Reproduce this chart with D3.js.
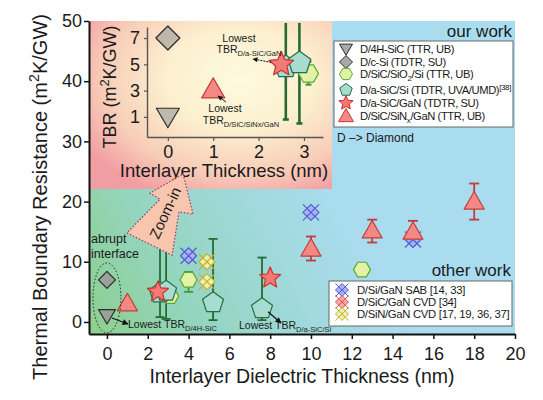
<!DOCTYPE html>
<html>
<head>
<meta charset="utf-8">
<script src="https://cdn.jsdelivr.net/npm/d3@7"></script>
<style>
  body { margin: 0; background: #fff; }
  text { font-family: "Liberation Sans", Arial, sans-serif; fill: #1a1a1a; }
</style>
</head>
<body>
<div id="chart"></div>
<script>
/* global d3 */

var W = 543, H = 400;

// ---- data: our work ----
var d4hSiC = [{x: 0, y: 1}];
var dcSi = [{x: 0, y: 7}];
var sio2Si = [{x: 3.1, y: 4.3, lo: 3.45, hi: 5.2}, {x: 4, y: 7, lo: 5, hi: 8.3}, {x: 12.5, y: 8.7, lo: 7.8, hi: 8.7}];
var aSiCSi = [{x: 2.6, y: 4.8, lo: 0.8, hi: 14}, {x: 2.9, y: 5.1, lo: 0.5, hi: 14}, {x: 5.2, y: 3.2, lo: 0.3, hi: 13.8}, {x: 7.6, y: 2.2, lo: 0.3, hi: 10.7}];
var aSiCGaN = [{x: 2.5, y: 5}, {x: 8, y: 7.3}];
var sinxGaN = [{x: 1, y: 3.1, lo: 2.6, hi: 3.5}, {x: 10, y: 12.2, lo: 10.2, hi: 14.2}, {x: 13, y: 15.2, lo: 13.2, hi: 17}, {x: 15, y: 15, lo: 13.5, hi: 16.8}, {x: 18, y: 20, lo: 17, hi: 23}];
// ---- data: other work ----
var siGaNSAB = [{x: 4, y: 11}, {x: 10, y: 18.2}, {x: 15, y: 13.7}];
var sicGaNCVD = [];
var sinGaNCVD = [{x: 4.9, y: 10}, {x: 4.9, y: 6.7}];

var xTicks = [0, 2, 4, 6, 8, 10, 12, 14, 16, 18, 20];
var yTicks = [0, 10, 20, 30, 40, 50];
var insetXTicks = [0, 1, 2, 3];
var insetYTicks = [1, 3, 5, 7];

var ourLegend = [
  {key: 'd4h', parts: [['D/4H-SiC (TTR, UB)']]},
  {key: 'csi', parts: [['D/c-Si (TDTR, SU)']]},
  {key: 'hex', parts: [['D/SiC/SiO'], ['2', 'sub'], ['/Si (TTR, UB)']]},
  {key: 'pent', parts: [['D/a-SiC/Si (TDTR, UVA/UMD)'], ['[38]', 'sup']]},
  {key: 'star', parts: [['D/a-SiC/GaN (TDTR, SU)']]},
  {key: 'tri', parts: [['D/SiC/SiN'], ['x', 'sub'], ['/GaN (TTR, UB)']]}
];
var otherLegend = [
  {key: 'sab', parts: [['D/Si/GaN SAB [14, 33]']]},
  {key: 'sicCvd', parts: [['D/SiC/GaN CVD [34]']]},
  {key: 'sinCvd', parts: [['D/SiN/GaN CVD [17, 19, 36, 37]']]}
];

// annotation arrow in data units
var zoomArrow = [[3.73, 24.6], [4.22, 17.9], [3.53, 18.3], [3.19, 11.1], [0.98, 14.8], [2.6, 20.4], [2.11, 21.4]];

var styles = {
  d4h: {shape: 'dtri', fill: '#9a9a9a', stroke: '#2b2b2b', op: 0.85},
  csi: {shape: 'diamond', fill: '#9a9a9a', stroke: '#2b2b2b', op: 0.85},
  hex: {shape: 'hex', fill: '#e4f2a8', stroke: '#5aa830', op: 1},
  pent: {shape: 'pent', fill: '#a6ddd0', stroke: '#2a6b45', op: 1},
  star: {shape: 'star', fill: '#f47a76', stroke: '#cf2e2e', op: 1},
  tri: {shape: 'tri', fill: '#f38884', stroke: '#c43c38', op: 1},
  sab: {shape: 'cross', fill: '#a9b0f4', stroke: '#4f5fd0', op: 1},
  sicCvd: {shape: 'cross', fill: '#f6a8a8', stroke: '#d45555', op: 1},
  sinCvd: {shape: 'cross', fill: '#eff1a6', stroke: '#c2b23c', op: 1}
};

function poly(n, r, rot) {
  var pts = [];
  for (var i = 0; i < n; i++) {
    var a = rot + i * 2 * Math.PI / n;
    pts.push([r * Math.sin(a), -r * Math.cos(a)]);
  }
  return 'M' + pts.join('L') + 'Z';
}
function starPath(r) {
  var pts = [];
  for (var i = 0; i < 10; i++) {
    var a = i * Math.PI / 5, rr = i % 2 ? r * 0.45 : r;
    pts.push([rr * Math.sin(a), -rr * Math.cos(a)]);
  }
  return 'M' + pts.join('L') + 'Z';
}
function shapePath(shape, s) {
  if (shape === 'dtri') return 'M' + (-s) + ',' + (-s * 0.75) + 'L' + s + ',' + (-s * 0.75) + 'L0,' + (s * 0.95) + 'Z';
  if (shape === 'tri') return 'M0,' + (-s) + 'L' + s + ',' + (s * 0.75) + 'L' + (-s) + ',' + (s * 0.75) + 'Z';
  if (shape === 'diamond') return poly(4, s, 0);
  if (shape === 'hex') return poly(6, s, Math.PI / 6);
  if (shape === 'pent') return poly(5, s, 0);
  if (shape === 'star') return starPath(s);
  if (shape === 'cross') return poly(4, s, 0) + 'M' + (-s) + ',' + (-s) + 'L' + s + ',' + s + 'M' + (-s) + ',' + s + 'L' + s + ',' + (-s);
  return '';
}

function drawMarkers(g, data, key, xs, ys, size, opOverride) {
  var st = styles[key];
  g.selectAll(null).data(data).enter().append('path').
  attr('transform', d => 'translate(' + xs(d.x) + ',' + ys(d.y) + ')').
  attr('d', shapePath(st.shape, size)).
  attr('fill', st.fill).
  attr('fill-opacity', opOverride || st.op).
  attr('stroke', st.stroke).
  attr('stroke-width', 1.2).
  attr('stroke-linejoin', 'round');
}

function drawErrors(g, data, color, xs, ys, cap, sw, yMax) {
  var e = g.selectAll(null).data(data).enter().append('g').
  attr('stroke', color).attr('stroke-width', sw);
  var top = d => ys(yMax === undefined ? d.hi : Math.min(d.hi, yMax));
  e.append('line').attr('x1', d => xs(d.x)).attr('x2', d => xs(d.x)).
  attr('y1', d => ys(d.lo)).attr('y2', top);
  e.append('line').attr('x1', d => xs(d.x) - cap / 2).attr('x2', d => xs(d.x) + cap / 2).
  attr('y1', d => ys(d.lo)).attr('y2', d => ys(d.lo));
  e.filter(d => yMax === undefined || d.hi < yMax).append('line').
  attr('x1', d => xs(d.x) - cap / 2).attr('x2', d => xs(d.x) + cap / 2).
  attr('y1', top).attr('y2', top);
}

function rich(t, parts, fs) {
  var off = 0;
  parts.forEach(function (p) {
    var target = p[1] === 'sub' ? fs * 0.3 : p[1] === 'sup' ? -fs * 0.4 : 0;
    var ts = t.append('tspan').text(p[0]).attr('dy', target - off);
    if (p[1]) ts.attr('font-size', fs * 0.72);
    off = target;
  });
  return t;
}

var svg = d3.select('#chart').append('svg').attr('width', W).attr('height', H);
var defs = svg.append('defs');

var bg = defs.append('linearGradient').attr('id', 'bgGrad').
attr('gradientUnits', 'userSpaceOnUse').
attr('x1', 89).attr('y1', 334).attr('x2', 345).attr('y2', 200);
[[0, '#8ccf8c'], [0.35, '#94d5bf'], [0.7, '#a1d9dc'], [1, '#aadcf0']].forEach(function (s) {
  bg.append('stop').attr('offset', s[0]).attr('stop-color', s[1]);
});
var ig = defs.append('radialGradient').attr('id', 'insetGrad').
attr('cx', 0.62).attr('cy', 0.35).attr('r', 0.75);
[[0, '#fdf9df'], [0.4, '#fcf0cf'], [0.75, '#f8cdb8'], [1, '#f19ea3']].forEach(function (s) {
  ig.append('stop').attr('offset', s[0]).attr('stop-color', s[1]);
});
var ah = defs.append('marker').attr('id', 'ah').attr('viewBox', '0 0 10 10').
attr('refX', 9).attr('refY', 5).attr('markerWidth', 7).attr('markerHeight', 5).
attr('orient', 'auto-start-reverse');
ah.append('path').attr('d', 'M0,0L10,5L0,10Z').attr('fill', '#111');

// ---- main scales ----
var x = d3.scaleLinear().domain([-0.88, 20]).range([89, 515]);
var y = d3.scaleLinear().domain([-2, 50]).range([334, 21]);

svg.append('rect').attr('x', 89).attr('y', 21).attr('width', 426).attr('height', 313).
attr('fill', 'url(#bgGrad)');

// inset panel
var inset = {x0: 89, y0: 21, x1: 332, y1: 189};
svg.append('rect').attr('x', inset.x0).attr('y', inset.y0).
attr('width', inset.x1 - inset.x0).attr('height', inset.y1 - inset.y0).
attr('fill', 'url(#insetGrad)');

// ---- main marks ----
var main = svg.append('g');
drawErrors(main, aSiCSi, '#256b33', x, y, 9, 1.8);
drawErrors(main, sio2Si, '#3f9a2c', x, y, 9, 1.8);
drawErrors(main, sinxGaN, '#c43c38', x, y, 10, 1.8);
drawMarkers(main, sio2Si, 'hex', x, y, 8.5);
drawMarkers(main, aSiCSi, 'pent', x, y, 11);
drawMarkers(main, sinGaNCVD, 'sinCvd', x, y, 8);
drawMarkers(main, sicGaNCVD, 'sicCvd', x, y, 8);
drawMarkers(main, siGaNSAB, 'sab', x, y, 8);
drawMarkers(main, aSiCGaN, 'star', x, y, 11);
drawMarkers(main, sinxGaN, 'tri', x, y, 10);
drawMarkers(main, dcSi, 'csi', x, y, 8.5);
drawMarkers(main, d4hSiC, 'd4h', x, y, 8.5);

// abrupt interface ellipse
main.append('ellipse').attr('cx', x(0)).attr('cy', y(4)).attr('rx', 14).attr('ry', 35).
attr('fill', 'none').attr('stroke', '#222').attr('stroke-width', 1).attr('stroke-dasharray', '1.5,2');
svg.append('text').attr('x', 91).attr('y', 243).attr('font-size', 12.5).text('abrupt');
svg.append('text').attr('x', 91).attr('y', 258).attr('font-size', 12.5).text('interface');

// lowest TBR annotations (main)
svg.append('line').attr('x1', x(0) + 5).attr('y1', y(1) + 2).attr('x2', 128).attr('y2', 324).
attr('stroke', '#111').attr('stroke-width', 1.2).attr('marker-end', 'url(#ah)');
rich(svg.append('text').attr('x', 128).attr('y', 328).attr('font-size', 10.5),
  [['Lowest TBR'], ['D/4H-SiC', 'sub']], 10.5);
svg.append('line').attr('x1', x(7.6) + 6).attr('y1', y(2.2) + 3).attr('x2', 281).attr('y2', 323).
attr('stroke', '#111').attr('stroke-width', 1.2).attr('marker-end', 'url(#ah)');
rich(svg.append('text').attr('x', 239).attr('y', 329).attr('font-size', 10.5),
  [['Lowest TBR'], ['D/a-SiC/Si', 'sub']], 10.5);

// ---- inset ----
var xi = d3.scaleLinear().domain([-0.46, 3.42]).range([147, 323]);
var yi = d3.scaleLinear().domain([-0.53, 7.84]).range([137, 27]);
var ins = svg.append('g');
var insetPent = aSiCSi.filter(d => d.x < 3.4);
var insetHex = sio2Si.filter(d => d.x < 3.4);
var insetTri = sinxGaN.filter(d => d.x < 3.4);
var insetStar = aSiCGaN.filter(d => d.x < 3.4);
drawErrors(ins, insetPent, '#256b33', xi, yi, 6, 2.6, 8.15);
drawErrors(ins, insetHex, '#3f9a2c', xi, yi, 6, 2, 8.15);
drawErrors(ins, insetTri, '#c43c38', xi, yi, 7, 2, 8.15);
drawMarkers(ins, insetHex, 'hex', xi, yi, 10);
drawMarkers(ins, insetPent, 'pent', xi, yi, 12);
drawMarkers(ins, insetStar, 'star', xi, yi, 13);
drawMarkers(ins, insetTri, 'tri', xi, yi, 11.5);
drawMarkers(ins, dcSi, 'csi', xi, yi, 12, 0.6);
drawMarkers(ins, d4hSiC, 'd4h', xi, yi, 11.5, 0.6);

var iax = svg.append('g').attr('transform', 'translate(0,137)').
call(d3.axisBottom(xi).tickValues(insetXTicks).tickSize(4).tickSizeOuter(0).tickPadding(4).tickFormat(d3.format('d')));
var iay = svg.append('g').attr('transform', 'translate(147,0)').
call(d3.axisLeft(yi).tickValues(insetYTicks).tickSize(3).tickSizeOuter(0).tickPadding(4).tickFormat(d3.format('d')));
[iax, iay].forEach(function (a) {
  a.select('.domain').attr('stroke', '#555').attr('stroke-width', 1.4);
  a.selectAll('.tick line').attr('stroke', '#555').attr('stroke-width', 1.2);
  a.selectAll('.tick text').attr('font-size', 18).attr('font-family', '"Liberation Sans", Arial, sans-serif').attr('fill', '#1a1a1a');
});
svg.append('text').attr('x', 224).attr('y', 177).attr('text-anchor', 'middle').attr('font-size', 18.5).
text('Interlayer Thickness (nm)');
rich(svg.append('text').attr('transform', 'translate(116,87) rotate(-90)').attr('text-anchor', 'middle').attr('font-size', 18),
  [['TBR (m'], ['2', 'sup'], ['K/GW)']], 18);

// inset annotations
svg.append('line').attr('x1', xi(2.5) - 10).attr('y1', yi(5) - 2).attr('x2', 253).attr('y2', 59).
attr('stroke', '#111').attr('stroke-width', 1).attr('stroke-dasharray', '2,1').attr('marker-end', 'url(#ah)');
svg.append('text').attr('x', 239).attr('y', 42).attr('text-anchor', 'middle').attr('font-size', 10.5).text('Lowest');
rich(svg.append('text').attr('x', 249).attr('y', 53).attr('text-anchor', 'middle').attr('font-size', 10.5),
  [['TBR'], ['D/a-SiC/GaN', 'sub']], 10.5);
svg.append('line').attr('x1', 226).attr('y1', 102).attr('x2', 218).attr('y2', 96).
attr('stroke', '#111').attr('stroke-width', 1).attr('marker-end', 'url(#ah)');
svg.append('text').attr('x', 225).attr('y', 112).attr('text-anchor', 'middle').attr('font-size', 10.5).text('Lowest');
rich(svg.append('text').attr('x', 241).attr('y', 124).attr('text-anchor', 'middle').attr('font-size', 10.5),
  [['TBR'], ['D/SiC/SiNx/GaN', 'sub']], 10.5);

// zoom-in arrow
svg.append('path').attr('d', 'M' + zoomArrow.map(p => [x(p[0]), y(p[1])]).join('L') + 'Z').
attr('fill', '#f8c6ae').attr('stroke', '#9c3a5a').attr('stroke-width', 1.2).attr('stroke-dasharray', '1.5,1.8');
svg.append('text').attr('transform', 'translate(170,215) rotate(-65)').attr('text-anchor', 'middle').
attr('font-size', 15).text('Zoom-in');

// ---- legends ----
svg.append('text').attr('x', 512).attr('y', 37).attr('text-anchor', 'end').attr('font-size', 17).text('our work');
svg.append('rect').attr('x', 334).attr('y', 41).attr('width', 179).attr('height', 86).
attr('fill', '#fff').attr('stroke', '#666').attr('stroke-width', 1);
var ly = [49, 62, 74, 90, 103, 116];
ourLegend.forEach(function (e, i) {
  var st = styles[e.key];
  svg.append('path').attr('transform', 'translate(346,' + ly[i] + ')').
  attr('d', shapePath(st.shape, st.shape === 'tri' || st.shape === 'star' ? 7.5 : 6.5)).
  attr('fill', st.fill).attr('fill-opacity', st.op).attr('stroke', st.stroke).attr('stroke-width', 1);
  rich(svg.append('text').attr('x', 360).attr('y', ly[i] + 4).attr('font-size', 11.2).
  attr('letter-spacing', -0.4), e.parts, 11.2);
});
svg.append('text').attr('x', 337).attr('y', 142).attr('font-size', 12).text('D \u2013> Diamond');

svg.append('text').attr('x', 511).attr('y', 276).attr('text-anchor', 'end').attr('font-size', 17).text('other work');
svg.append('rect').attr('x', 329).attr('y', 281).attr('width', 183).attr('height', 45).
attr('fill', '#fff').attr('stroke', '#666').attr('stroke-width', 1);
var ly2 = [290, 302, 314];
otherLegend.forEach(function (e, i) {
  var st = styles[e.key];
  svg.append('path').attr('transform', 'translate(342,' + ly2[i] + ')').
  attr('d', shapePath(st.shape, 6.5)).
  attr('fill', st.fill).attr('stroke', st.stroke).attr('stroke-width', 1);
  rich(svg.append('text').attr('x', 357).attr('y', ly2[i] + 4).attr('font-size', 11.3).
  attr('letter-spacing', -0.3), e.parts, 11.3);
});

// ---- main axes ----
var xMinor = d3.range(1, 20, 2);
var yMinor = d3.range(5, 50, 10);
var gx = svg.append('g').attr('transform', 'translate(0,334)');
gx.call(d3.axisBottom(x).tickValues(xMinor).tickSize(3).tickFormat(''));
gx.call(d3.axisBottom(x).tickValues(xTicks).tickSize(5).tickSizeOuter(0).tickPadding(8).tickFormat(d3.format('d')));
var gy = svg.append('g').attr('transform', 'translate(89,0)');
gy.call(d3.axisLeft(y).tickValues(yMinor).tickSize(3).tickFormat(''));
gy.call(d3.axisLeft(y).tickValues(yTicks).tickSize(5).tickSizeOuter(0).tickPadding(2).tickFormat(d3.format('d')));
[gx, gy].forEach(function (a) {
  a.selectAll('.domain').attr('stroke', '#111').attr('stroke-width', 2);
  a.selectAll('.tick line').attr('stroke', '#111').attr('stroke-width', 1.5);
  a.selectAll('.tick text').attr('font-size', 18).attr('font-family', '"Liberation Sans", Arial, sans-serif').attr('fill', '#1a1a1a');
});

svg.append('text').attr('x', 302).attr('y', 383).attr('text-anchor', 'middle').attr('font-size', 19.5).
text('Interlayer Dielectric Thickness (nm)');
rich(svg.append('text').attr('transform', 'translate(47,197) rotate(-90)').attr('text-anchor', 'middle').attr('font-size', 20),
  [['Thermal Boundary Resistance (m'], ['2', 'sup'], ['K/GW)']], 20);
</script>
</body>
</html>
